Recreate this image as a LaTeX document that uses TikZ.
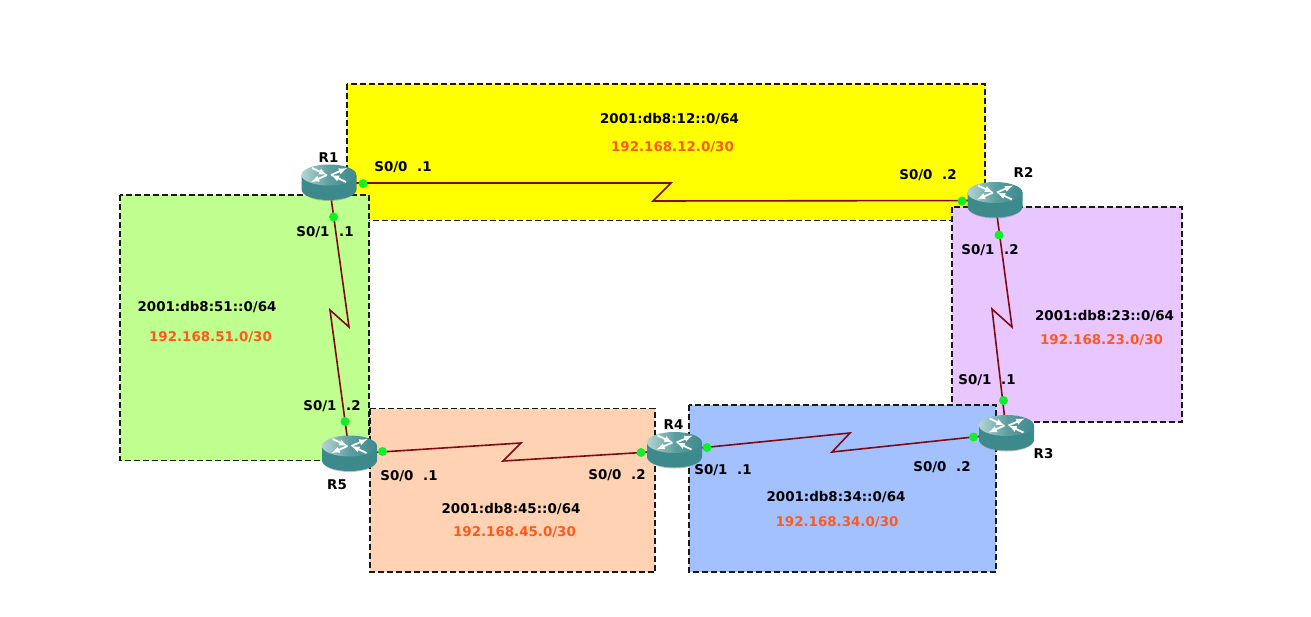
\documentclass[tikz,border=0pt]{standalone}
\usepackage{fontspec}
\setmainfont{DejaVu Sans}
\usetikzlibrary{calc}
\definecolor{linkc}{HTML}{7F0A14}
\definecolor{yel}{HTML}{FFFF00}
\definecolor{grn}{HTML}{BFFF90}
\definecolor{pur}{HTML}{E8C6FF}
\definecolor{org}{HTML}{FFD2B4}
\definecolor{blu}{HTML}{A3C1FF}
\definecolor{ipc}{HTML}{FF5A1E}
\definecolor{rtop}{HTML}{5E9FA0}
\definecolor{rside}{HTML}{3C8A8C}
\definecolor{dotc}{HTML}{10F028}
\tikzset{
 zone/.style={draw=black!90,line width=1.4pt,dash pattern=on 6pt off 3pt},
 lnk/.style={draw=linkc,line width=1.6pt},
 dotg/.style={circle,fill=dotc,inner sep=0pt,minimum size=9pt},
 lab/.style={font=\bfseries\fontsize{13.4}{15}\selectfont,inner sep=0pt,text=black,yshift=-1pt},
 iplab/.style={lab,text=ipc},
 rname/.style={lab},
 rnode/.style={inner sep=0pt,minimum width=56pt,minimum height=36pt},
}
\newcommand{\routerat}[1]{%
 \fill[black!45,opacity=.55] ($(#1)+(-26,6)$) -- ($(#1)+(-26,8)$) arc[x radius=26,y radius=10,start angle=180,end angle=0] -- ($(#1)+(26,6)$) -- cycle;
 \fill[rside] ($(#1)+(-27.5,-8)$) -- ($(#1)+(-27.5,6.5)$) arc[x radius=27.5,y radius=10.5,start angle=180,end angle=0] -- ($(#1)+(27.5,-8)$) -- cycle;
 \shade[left color=rtop!45!white,right color=rside,middle color=rtop] ($(#1)+(0,-8)$) ellipse[x radius=27.5,y radius=10.5];
 \draw[white,line width=1.8pt,-latex] ($(#1)+(-17,-15)$) -- ($(#1)+(-2,-8)$) ;
 \draw[white,line width=1.8pt,-latex] ($(#1)+(17,-1)$) -- ($(#1)+(2,-8)$);
 \draw[white,line width=1.8pt,-latex] ($(#1)+(-2,-8)$) -- ($(#1)+(-18,-1)$);
 \draw[white,line width=1.8pt,-latex] ($(#1)+(2,-8)$) -- ($(#1)+(18,-15)$);
}
\begin{document}
\begin{tikzpicture}[x=1pt,y=-1pt]
\useasboundingbox (0,0) rectangle (1311,617);
\fill[white] (0,0) rectangle (1311,617);
\draw[zone,fill=yel] (347,84) rectangle (985,220.5);
\draw[zone,fill=grn] (120,195) rectangle (369,460.5);
\draw[zone,fill=pur] (952,207) rectangle (1182,422);
\draw[zone,fill=org] (370,408.5) rectangle (655,572);
\draw[zone,fill=blu] (689,405) rectangle (996,572);
\node[rnode] (R1) at (329,183) {};
\node[rnode] (R2) at (995,200.5) {};
\node[rnode] (R3) at (1006.5,433.5) {};
\node[rnode] (R4) at (674.5,450.5) {};
\node[rnode] (R5) at (349.5,454) {};
\coordinate (z1a) at (671,183); \coordinate (z1b) at (653,201);
\coordinate (z2a) at (1012,327); \coordinate (z2b) at (992,309);
\coordinate (z3a) at (850,433); \coordinate (z3b) at (832,452);
\coordinate (z4a) at (521,443); \coordinate (z4b) at (503,461);
\coordinate (z5a) at (349,327); \coordinate (z5b) at (330,310);
\draw[lnk] (R1.center) -- (z1a) -- (z1b) -- (R2.center);
\draw[lnk] (R2.center) -- (z2a) -- (z2b) -- (R3.center);
\draw[lnk] (R4.center) -- (z3a) -- (z3b) -- (R3.center);
\draw[lnk] (R5.center) -- (z4a) -- (z4b) -- (R4.center);
\draw[lnk] (R1.center) -- (z5a) -- (z5b) -- (R5.center);
\routerat{R1}\routerat{R2}\routerat{R3}\routerat{R4}\routerat{R5}
\node[dotg] (d1) at (363,183.5) {};
\node[dotg] (d2) at (333.5,217) {};
\node[dotg] (d3) at (962,201) {};
\node[dotg] (d4) at (999,235) {};
\node[dotg] (d5) at (1003.5,400.5) {};
\node[dotg] (d6) at (973.5,437) {};
\node[dotg] (d7) at (707,447.5) {};
\node[dotg] (d8) at (641,452.5) {};
\node[dotg] (d9) at (382.5,451.5) {};
\node[dotg] (d10) at (345,421.5) {};
\node[rname] (n1) at (328.5,157) {R1};
\node[rname] (n2) at (1023.5,172) {R2};
\node[rname] (n3) at (1043.5,453) {R3};
\node[rname] (n4) at (673.5,424) {R4};
\node[rname] (n5) at (337,484) {R5};
\node[lab] (a1) at (403,166) {S0/0\hspace{5pt} .1};
\node[lab] (a2) at (928,174) {S0/0\hspace{5pt} .2};
\node[lab] (a3) at (325,231) {S0/1\hspace{5pt} .1};
\node[lab] (a4) at (990,249) {S0/1\hspace{5pt} .2};
\node[lab] (a5) at (987,379) {S0/1\hspace{5pt} .1};
\node[lab] (a6) at (942,466) {S0/0\hspace{5pt} .2};
\node[lab] (a7) at (723,469) {S0/1\hspace{5pt} .1};
\node[lab] (a8) at (617,474) {S0/0\hspace{5pt} .2};
\node[lab] (a9) at (409,475) {S0/0\hspace{5pt} .1};
\node[lab] (a10) at (332,405) {S0/1\hspace{5pt} .2};
\node[lab] (v1) at (669.5,118) {2001:db8:12::0/64};
\node[iplab] (i1) at (672.5,146) {192.168.12.0/30};
\node[lab] (v2) at (1104.5,315) {2001:db8:23::0/64};
\node[iplab] (i2) at (1101.5,339) {192.168.23.0/30};
\node[lab] (v3) at (836,496) {2001:db8:34::0/64};
\node[iplab] (i3) at (837,521) {192.168.34.0/30};
\node[lab] (v4) at (511,508) {2001:db8:45::0/64};
\node[iplab] (i4) at (514.5,531) {192.168.45.0/30};
\node[lab] (v5) at (207,306) {2001:db8:51::0/64};
\node[iplab] (i5) at (210.5,336) {192.168.51.0/30};
\end{tikzpicture}
\end{document}
